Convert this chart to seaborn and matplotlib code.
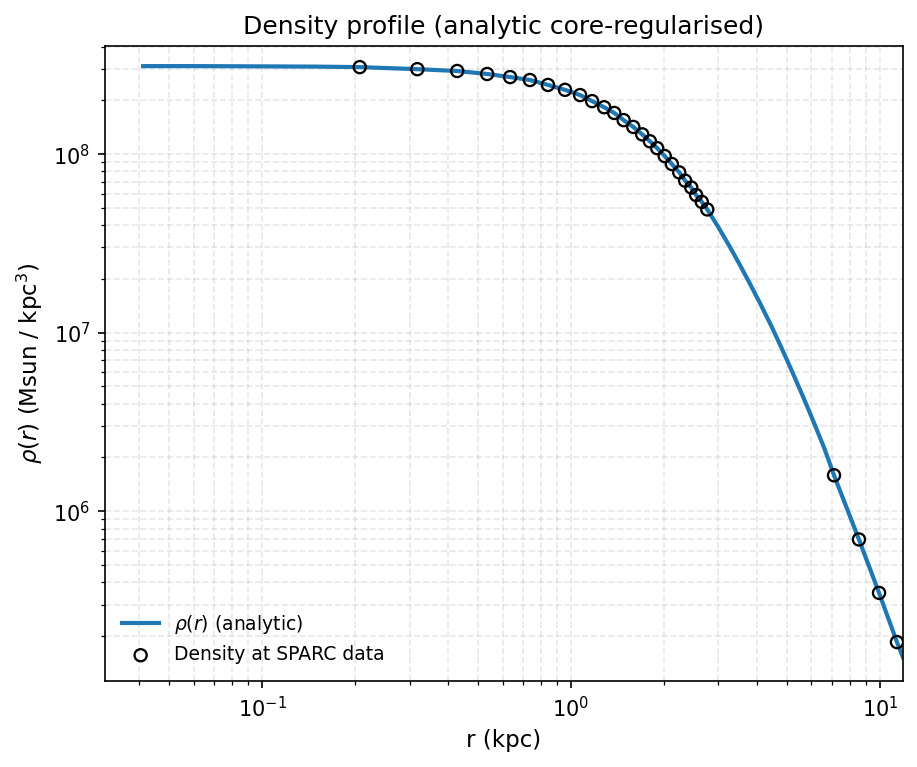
import matplotlib
matplotlib.use("Agg")
import matplotlib.pyplot as plt
import seaborn as sns
import pandas as pd

# analytic profile (kpc, Msun/kpc^3)
r_curve = [0.0412, 0.06, 0.1, 0.15, 0.207, 0.318, 0.428, 0.535, 0.635, 0.736,
           0.842, 0.956, 1.07, 1.17, 1.28, 1.38, 1.48, 1.59, 1.70, 1.80,
           1.90, 2.01, 2.12, 2.24, 2.34, 2.45, 2.54, 2.65, 2.76, 3.00,
           3.25, 3.50, 3.80, 4.10, 4.45, 4.80, 5.20, 5.65, 6.10, 6.60,
           7.10, 8.55, 9.93, 11.35, 11.87]
rho_curve = [3.11e8, 3.11e8, 3.10e8, 3.09e8, 3.07e8, 2.99e8, 2.92e8, 2.81e8, 2.70e8, 2.60e8,
             2.44e8, 2.29e8, 2.14e8, 1.98e8, 1.83e8, 1.70e8, 1.55e8, 1.42e8, 1.29e8, 1.18e8,
             1.08e8, 9.75e7, 8.8e7, 7.9e7, 7.1e7, 6.5e7, 5.9e7, 5.4e7, 4.9e7, 3.89e7,
             3.07e7, 2.44e7, 1.87e7, 1.45e7, 1.09e7, 8.22e6, 6.04e6, 4.34e6, 3.16e6, 2.26e6,
             1.59e6, 6.95e5, 3.49e5, 1.85e5, 1.52e5]

# density evaluated at the SPARC radii
r_data = [0.207, 0.318, 0.428, 0.535, 0.635, 0.736, 0.842, 0.956, 1.07, 1.17,
          1.28, 1.38, 1.48, 1.59, 1.70, 1.80, 1.90, 2.01, 2.12, 2.24,
          2.34, 2.45, 2.54, 2.65, 2.76, 7.10, 8.55, 9.93, 11.35]
rho_data = [3.07e8, 2.99e8, 2.92e8, 2.81e8, 2.70e8, 2.60e8, 2.44e8, 2.29e8, 2.14e8, 1.98e8,
            1.83e8, 1.70e8, 1.55e8, 1.42e8, 1.29e8, 1.18e8, 1.08e8, 9.75e7, 8.8e7, 7.9e7,
            7.1e7, 6.5e7, 5.9e7, 5.4e7, 4.9e7, 1.59e6, 6.95e5, 3.49e5, 1.85e5]

curve = pd.DataFrame({"r": r_curve, "rho": rho_curve})
points = pd.DataFrame({"r": r_data, "rho": rho_data})

fig, ax = plt.subplots(figsize=(917 / 150, 767 / 150), dpi=150)
fig.subplots_adjust(left=0.1145, right=0.9847, top=0.940, bottom=0.1121)

sns.lineplot(data=curve, x="r", y="rho", ax=ax, color="tab:blue", lw=2,
             label=r"$\rho(r)$ (analytic)")
sns.scatterplot(data=points, x="r", y="rho", ax=ax, s=34, facecolor="none",
                edgecolor="black", linewidth=1.1, zorder=3,
                label="Density at SPARC data")

ax.set_xscale("log")
ax.set_yscale("log")
ax.set_xlim(0.031, 11.87)
ax.set_ylim(1.12e5, 4.03e8)
ax.grid(True, which="both", ls="--", alpha=0.3)

ax.set_xlabel("r (kpc)", fontsize=11)
ax.set_ylabel(r"$\rho(r)$ (Msun / kpc$^3$)", fontsize=11)
ax.set_title("Density profile (analytic core-regularised)")
ax.legend(loc="lower left", frameon=False, fontsize=9)

fig.savefig("out.png", dpi=150)
